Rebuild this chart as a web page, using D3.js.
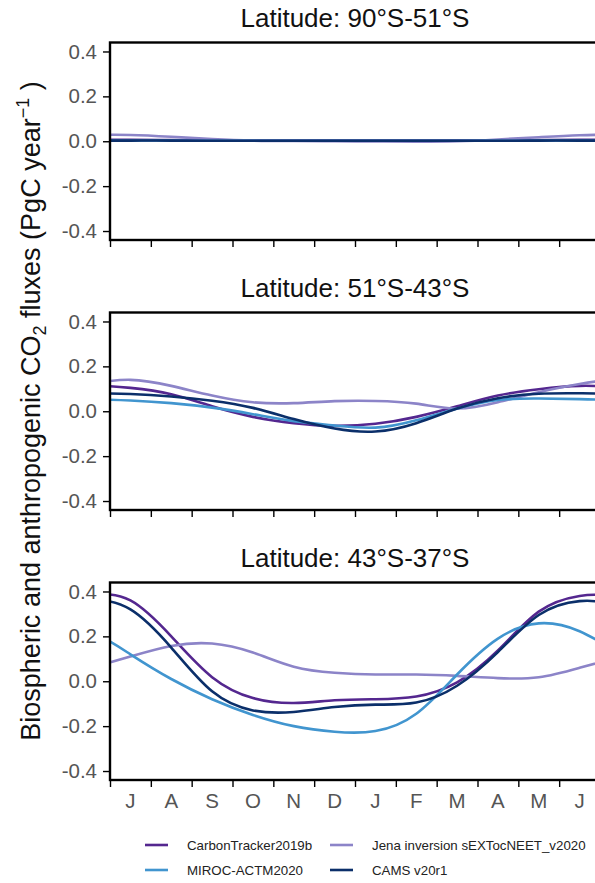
<!DOCTYPE html>
<html>
<head>
<meta charset="utf-8">
<script src="https://cdn.jsdelivr.net/npm/d3@7"></script>
<style>
  body { margin: 0; background: #fff; }
  svg { display: block; font-family: "Liberation Sans", Arial, sans-serif; }
</style>
</head>
<body>
<div id="chart"></div>
<script>
// ---- data ----
const months = ["J", "A", "S", "O", "N", "D", "J", "F", "M", "A", "M", "J"];
const panelTitles = ["Latitude: 90°S-51°S", "Latitude: 51°S-43°S", "Latitude: 43°S-37°S"];
const seriesNames = ["CarbonTracker2019b", "Jena inversion sEXTocNEET_v2020", "MIROC-ACTM2020", "CAMS v20r1"];
const seriesColours = ["#54278f", "#8c84c8", "#4195cf", "#0b2f6a"];
const yTicks = [0.4, 0.2, 0.0, -0.2, -0.4];

// monthly means (Jul..Jun), one row per latitude band
const carbonTracker = [
  [0.006, 0.005, 0.004, 0.003, 0.003, 0.003, 0.003, 0.003, 0.003, 0.004, 0.005, 0.006],
  [0.104, 0.076, 0.022, -0.025, -0.053, -0.065, -0.056, -0.025, 0.022, 0.070, 0.098, 0.113],
  [0.360, 0.200, 0.018, -0.075, -0.097, -0.085, -0.080, -0.068, -0.005, 0.137, 0.310, 0.380]
];
const jena = [
  [0.028, 0.020, 0.010, 0.003, 0.001, 0.000, -0.001, -0.002, 0.000, 0.008, 0.018, 0.027],
  [0.140, 0.113, 0.070, 0.040, 0.036, 0.045, 0.046, 0.034, 0.012, 0.040, 0.085, 0.121],
  [0.110, 0.157, 0.168, 0.128, 0.065, 0.038, 0.030, 0.030, 0.024, 0.014, 0.018, 0.060]
];
const miroc = [
  [0.003, 0.003, 0.002, 0.002, 0.002, 0.002, 0.002, 0.002, 0.002, 0.002, 0.003, 0.003],
  [0.048, 0.036, 0.016, -0.013, -0.044, -0.064, -0.073, -0.040, 0.012, 0.050, 0.057, 0.054],
  [0.120, 0.010, -0.080, -0.150, -0.200, -0.225, -0.222, -0.145, 0.030, 0.190, 0.258, 0.223]
];
const cams = [
  [0.003, 0.003, 0.002, 0.002, 0.002, 0.002, 0.002, 0.002, 0.002, 0.002, 0.003, 0.003],
  [0.077, 0.066, 0.047, 0.015, -0.035, -0.077, -0.090, -0.053, 0.012, 0.058, 0.078, 0.080],
  [0.320, 0.150, -0.045, -0.130, -0.137, -0.115, -0.104, -0.095, -0.020, 0.130, 0.295, 0.357]
];

const seriesData = [carbonTracker, jena, miroc, cams];

// ---- layout ----
const width = 595;
const height = 883;
const left = 110;
const right = 600;
const panelTops = [42.5, 312.5, 582.5];
const panelHeight = 197.5;

const svg = d3.create("svg")
  .attr("width", width)
  .attr("height", height);

const x = d3.scaleLinear().domain([0, 12]).range([left, right]);
const fmt = v => (Math.abs(v) < 1e-9 ? "0.0" : v.toFixed(1));

// monthly values sit at month mid-points; pad both ends periodically
function toPoints(values) {
  const n = values.length;
  const pts = [];
  for (let i = -2; i < n + 2; i++) {
    pts.push({ t: i + 0.5, v: values[(i + n) % n] });
  }
  return pts;
}

panelTitles.forEach((title, p) => {
  const top = panelTops[p];
  const bottom = top + panelHeight;
  const y = d3.scaleLinear().domain([-0.44, 0.44]).range([bottom, top]);
  const g = svg.append("g");

  g.append("clipPath").attr("id", "clip" + p)
    .append("rect")
    .attr("x", left).attr("y", top)
    .attr("width", right - left).attr("height", panelHeight);

  const line = d3.line()
    .x(d => x(d.t))
    .y(d => y(d.v))
    .curve(d3.curveNatural);

  g.append("g")
    .attr("clip-path", `url(#clip${p})`)
    .selectAll("path")
    .data(seriesData.map((s, i) => ({ values: s[p], colour: seriesColours[i] })))
    .join("path")
    .attr("d", d => line(toPoints(d.values)))
    .attr("fill", "none")
    .attr("stroke", d => d.colour)
    .attr("stroke-width", 2.6);

  // y axis ticks
  const yAxis = g.append("g")
    .attr("transform", `translate(${left},0)`)
    .call(d3.axisLeft(y).tickValues(yTicks).tickFormat(fmt).tickSize(7).tickPadding(6));
  yAxis.select(".domain").remove();
  yAxis.selectAll(".tick line").attr("stroke", "#000").attr("stroke-width", 1.4);
  yAxis.selectAll(".tick text")
    .attr("fill", "#555")
    .attr("font-size", 20.5)
    .attr("font-family", "Liberation Sans, Arial, sans-serif");

  // x axis ticks at month boundaries
  const xAxis = g.append("g")
    .attr("transform", `translate(0,${bottom})`)
    .call(d3.axisBottom(x).tickValues(d3.range(0, 13)).tickFormat("").tickSize(7));
  xAxis.select(".domain").remove();
  xAxis.selectAll(".tick line").attr("stroke", "#000").attr("stroke-width", 1.4);

  // panel frame
  g.append("rect")
    .attr("x", left).attr("y", top)
    .attr("width", right - left).attr("height", panelHeight)
    .attr("fill", "none")
    .attr("stroke", "#000")
    .attr("stroke-width", 2.4);

  g.append("text")
    .attr("x", (left + right) / 2)
    .attr("y", top - 15.5)
    .attr("text-anchor", "middle")
    .attr("font-size", 26)
    .attr("fill", "#111")
    .text(title);

  if (p === panelTitles.length - 1) {
    g.append("g")
      .selectAll("text")
      .data(months)
      .join("text")
      .attr("x", (d, i) => x(i + 0.5))
      .attr("y", bottom + 28)
      .attr("text-anchor", "middle")
      .attr("font-size", 20.5)
      .attr("fill", "#555")
      .text(d => d);
  }
});

// y axis title
const yTitle = svg.append("text")
  .attr("transform", "translate(40,411) rotate(-90)")
  .attr("text-anchor", "middle")
  .attr("font-size", 27)
  .attr("fill", "#111");
yTitle.append("tspan").text("Biospheric and anthropogenic CO");
yTitle.append("tspan").attr("font-size", 18).attr("dy", 6).text("2");
yTitle.append("tspan").attr("dy", -6).text(" fluxes (PgC year");
yTitle.append("tspan").attr("font-size", 18).attr("dy", -11).text("−1");
yTitle.append("tspan").attr("dy", 11).text(" )");

// legend, two columns
const legendCols = [145, 330];
const legendRows = [845, 870];
const legend = svg.append("g")
  .selectAll("g")
  .data(seriesNames)
  .join("g")
  .attr("transform", (d, i) => `translate(${legendCols[i % 2]},${legendRows[Math.floor(i / 2)]})`);
legend.append("line")
  .attr("x1", 0).attr("x2", 23)
  .attr("stroke", (d, i) => seriesColours[i])
  .attr("stroke-width", 2.6);
legend.append("text")
  .attr("x", 42)
  .attr("dy", "0.35em")
  .attr("font-size", 13.3)
  .attr("fill", "#222")
  .text(d => d);

document.getElementById("chart").appendChild(svg.node());
</script>
</body>
</html>
